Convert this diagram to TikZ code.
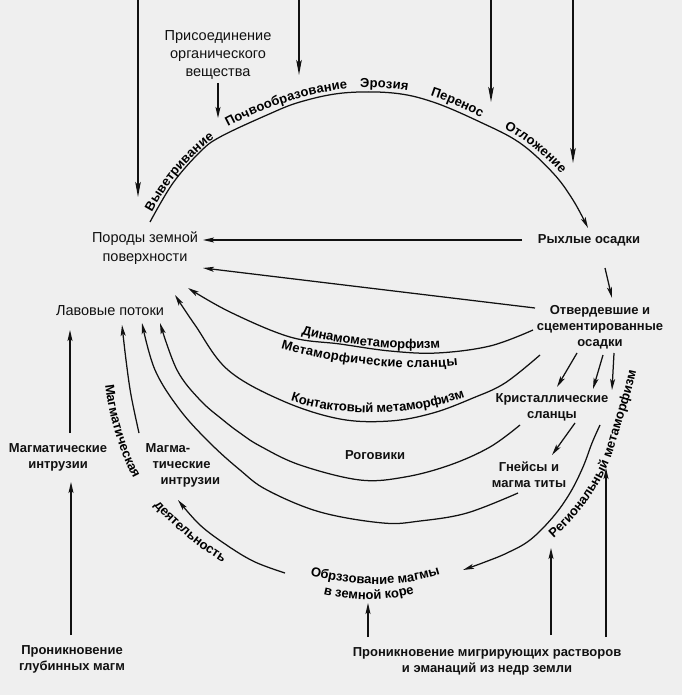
\documentclass[tikz,border=0pt]{standalone}
\usepackage{fontspec}
\setmainfont{Liberation Sans}
\usetikzlibrary{arrows.meta,decorations.text}
\definecolor{bgc}{RGB}{239,239,239}
\definecolor{ink}{RGB}{17,17,17}
\newcommand\fr{\fontsize{14.5}{18}\selectfont}
\newcommand\fb{\bfseries\fontsize{13}{16}\selectfont}
\newcommand\fc{\bfseries\fontsize{13}{15}\selectfont}
\begin{document}
\begin{tikzpicture}[x=1pt,y=-1pt,line width=1.25pt,color=ink,
  >={Stealth[length=11pt,width=5pt,inset=2.5pt]},
  arr/.style={->},
  longarr/.style={-{Stealth[length=15pt,width=5.5pt,inset=3pt]}},
  reg/.style={font=\fr,align=center,inner sep=1pt},
  bld/.style={font=\fb,align=center,inner sep=1pt},
  lbl/.style={decorate,decoration={text along path,text align=center,raise=#1}}]
\fill[bgc] (0,0) rectangle (682,695);
\useasboundingbox (0,0) rectangle (682,695);

% ---------- nodes ----------
\node[reg] (pris) at (218,55) {Присоединение\\органического\\вещества};
\node[reg] (porody) at (145,248) {Породы земной\\[1pt]поверхности};
\node[reg] (lava) at (110,311) {Лавовые потоки};
\node[bld] (ryh) at (589,240) {Рыхлые осадки};
\node[bld] (otv) at (600,327) {Отвердевшие и\\сцементированные\\осадки};
\node[bld] (krist) at (552,407) {Кристаллические\\сланцы};
\node[bld] (gneis) at (529,475) {Гнейсы и\\магма титы};
\node[bld] (rog) at (375,455) {Роговики};
\node[bld,align=left,anchor=west] (mint) at (144,465) {Магма-\\\hspace{7pt}тические\\\hspace{15pt}интрузии};
\node[bld] (mint2) at (58,457) {Магматические\\интрузии};
\node[bld] (deep) at (72,659) {Проникновение\\глубинных магм};
\node[bld] (migr) at (487,661) {Проникновение мигрирующих растворов\\и эманаций из недр земли};

% ---------- coordinates ----------
\coordinate (t1) at (138,0);   \coordinate (t1e) at (138,197);
\coordinate (t2) at (299,0);   \coordinate (t2e) at (299,75);
\coordinate (t3) at (491,0);   \coordinate (t3e) at (491,102);
\coordinate (t4) at (573,0);   \coordinate (t4e) at (573,163);
\coordinate (prisS) at (218,83); \coordinate (prisE) at (218,118);
\coordinate (ryhW) at (522,240); \coordinate (porE1) at (203,240);
\coordinate (otvW) at (535,308); \coordinate (porE2) at (203,268);
\coordinate (ryhS) at (605,268); \coordinate (otvN) at (612,298);
\coordinate (o1) at (577,353); \coordinate (k1) at (557,387);
\coordinate (o2) at (603,355); \coordinate (k2) at (593,389);
\coordinate (o3) at (614,353); \coordinate (k3) at (612,390);
\coordinate (k4) at (575,423); \coordinate (g1) at (552,455);
\coordinate (mi2N) at (70,433); \coordinate (lavS) at (70,330);
\coordinate (deepN) at (71,635); \coordinate (mi2S) at (71,482);
\coordinate (m1) at (368,637); \coordinate (m1e) at (368,603);
\coordinate (m2) at (551,635); \coordinate (m2e) at (551,548);
\coordinate (m3) at (606,637); \coordinate (m3e) at (606,468);

% ---------- straight arrows ----------
\draw[longarr] (t1) -- (t1e);
\draw[longarr] (t2) -- (t2e);
\draw[longarr] (t3) -- (t3e);
\draw[longarr] (t4) -- (t4e);
\draw[arr] (prisS) -- (prisE);
\draw[arr] (ryhW) -- (porE1);
\draw[arr] (otvW) -- (porE2);
\draw[arr] (ryhS) -- (otvN);
\draw[arr] (o1) -- (k1);
\draw[arr] (o2) -- (k2);
\draw[arr] (o3) -- (k3);
\draw[arr] (k4) -- (g1);
\draw[arr] (mi2N) -- (lavS);
\draw[arr] (deepN) -- (mi2S);
\draw[arr] (m1) -- (m1e);
\draw[arr] (m2) -- (m2e);
\draw[arr] (m3) -- (m3e);

% ---------- curved arrows ----------
\draw[arr] plot[smooth,tension=0.6] coordinates {(150,222) (173,183) (200,152) (220,137) (267,115) (300,102) (343,93) (393,93) (433,102) (480,122) (520,143) (553,173) (573,200) (588,228)};
\draw[arr] plot[smooth,tension=0.6] coordinates {(533,330) (490,346) (437,353) (390,351) (340,344) (290,337) (230,312) (188,288)};
\draw[arr] plot[smooth,tension=0.6] coordinates {(540,355) (505,383) (473,398) (433,413) (390,421) (340,419) (283,401) (228,370) (195,325) (175,295)};
\draw[arr] plot[smooth,tension=0.6] coordinates {(520,425) (490,447) (450,465) (405,477) (360,480) (300,465) (260,446) (240,433) (223,420) (200,400) (177,370) (160,323)};
\draw[arr] plot[smooth,tension=0.6] coordinates {(518,493) (467,513) (420,521) (383,523) (320,512) (267,490) (240,470) (210,443) (180,410) (155,370) (142,323)};
\draw[arr] plot[smooth,tension=0.6] coordinates {(139,433) (131,395) (126,360) (122,325)};
\draw[arr] plot[smooth,tension=0.6] coordinates {(285,573) (255,562) (228,546) (200,525) (178,500)};
\draw[arr] plot[smooth,tension=0.6] coordinates {(600,425) (592,443) (583,467) (570,493) (553,517) (530,540) (507,553) (485,562) (463,570)};

% ---------- labels along curves ----------
\path[lbl=3pt,decoration={text={|\fc|Выветривание}}] (146,230) .. controls (165,190) and (195,150) .. (232,131);
\path[lbl=5pt,decoration={text={|\fc|Почвообразование}}] (218,138) .. controls (260,114) and (310,96) .. (362,92);
\path[lbl=5pt,decoration={text={|\fc|Эрозия}}] (345,93) .. controls (370,91) and (400,93) .. (422,99);
\path[lbl=5pt,decoration={text={|\fc|Перенос}}] (420,98) .. controls (442,104) and (465,115) .. (487,126);
\path[lbl=5pt,decoration={text={|\fc|Отложение}}] (495,129) .. controls (515,139) and (545,160) .. (562,183);
\path[lbl=5pt,decoration={text={|\fc|Динамометаморфизм}}] (262,327) .. controls (320,350) and (420,362) .. (480,347);
\path[lbl=-14pt,decoration={text={|\fc|Метаморфические сланцы}}] (262,327) .. controls (320,350) and (420,362) .. (480,347);
\path[lbl=5pt,decoration={text={|\fc|Контактовый метаморфизм}}] (255,390) .. controls (320,430) and (440,425) .. (500,385);
\path[lbl=0pt,decoration={text={|\fc|Магматическая}}] (104,374) .. controls (108,420) and (122,460) .. (139,488);
\path[lbl=0pt,decoration={text={|\fc|деятельность}}] (147,497) .. controls (170,525) and (200,550) .. (232,568);
\path[lbl=0pt,decoration={text={|\fc|Региональный метаморфизм}}] (537,552) .. controls (580,520) and (605,480) .. (615,445) .. controls (625,410) and (635,385) .. (640,350);
\path[lbl=0pt,decoration={text={|\fc|Обрззование магмы}}] (296,570) .. controls (340,588) and (410,590) .. (454,569);
\path[lbl=0pt,decoration={text={|\fc|в земной коре}}] (305,588) .. controls (340,603) and (400,604) .. (432,586);
\end{tikzpicture}
\end{document}
